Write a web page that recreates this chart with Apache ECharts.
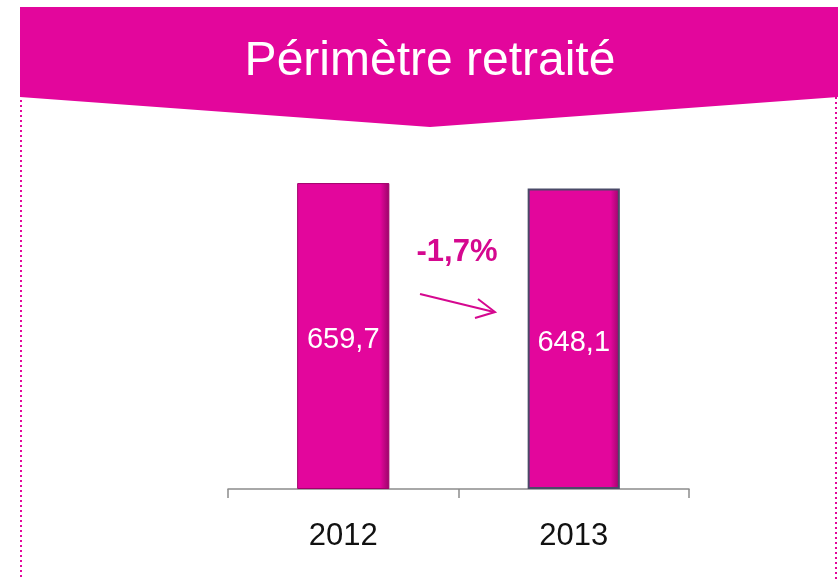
<!DOCTYPE html>
<html>
<head>
<meta charset="utf-8">
<script src="https://cdn.jsdelivr.net/npm/echarts@6/dist/echarts.min.js"></script>
<style>
  html, body { margin: 0; padding: 0; background: #fff; }
  #main { width: 838px; height: 579px; }
</style>
</head>
<body>
<div id="main"></div>
<script>
// données
var years = ['2012', '2013'];
var values = [659.7, 648.1];
var variation = '-1,7%';
var title = 'Périmètre retraité';

var magenta = '#E3069C';

var chart = echarts.init(document.getElementById('main'));

function fmt(v) {
    return v.toFixed(1).replace('.', ',');
}

chart.setOption({
    animation: false,
    grid: { left: 228, right: 149, top: 118, bottom: 90 },
    xAxis: {
        type: 'category',
        data: years,
        axisLine: { lineStyle: { color: '#8c8c8c', width: 1.5 } },
        axisTick: { show: true, length: 9, lineStyle: { color: '#8c8c8c', width: 1.5 } },
        axisLabel: { color: '#111', fontSize: 31, fontFamily: 'Liberation Sans', margin: 32 }
    },
    yAxis: {
        type: 'value',
        min: 0,
        max: 800,
        show: false,
        splitLine: { show: false }
    },
    series: [{
        type: 'bar',
        barWidth: '40%',
        data: values.map(function (v, i) {
            return {
                value: v,
                itemStyle: i === 1
                    ? { borderColor: '#4a4a68', borderWidth: 2 }
                    : { borderColor: '#a0006a', borderWidth: 1 }
            };
        }),
        itemStyle: {
            color: new echarts.graphic.LinearGradient(0, 0, 1, 0, [
                { offset: 0, color: magenta },
                { offset: 0.9, color: magenta },
                { offset: 1, color: '#9a0568' }
            ])
        },
        label: {
            show: true,
            position: 'inside',
            offset: [0, 4],
            color: '#fff',
            fontSize: 29,
            fontFamily: 'Liberation Sans',
            formatter: function (p) { return fmt(p.value); }
        }
    }],
    graphic: [
        // bandeau du titre
        {
            type: 'polygon',
            z: 1,
            shape: { points: [[20, 7], [838, 7], [838, 97], [430, 127], [20, 97]] },
            style: { fill: magenta }
        },
        {
            type: 'text',
            z: 2,
            x: 430, y: 62,
            style: {
                text: title, fill: '#fff', fontSize: 48,
                fontFamily: 'Liberation Sans',
                align: 'center', verticalAlign: 'middle'
            }
        },
        // bordures pointillées
        {
            type: 'line', z: 0,
            shape: { x1: 21, y1: 35, x2: 21, y2: 579 },
            style: { stroke: magenta, lineWidth: 2, lineDash: [2, 3] }
        },
        {
            type: 'line', z: 0,
            shape: { x1: 836, y1: 97, x2: 836, y2: 579 },
            style: { stroke: magenta, lineWidth: 2, lineDash: [2, 3] }
        },
        // variation
        {
            type: 'text',
            x: 457, y: 252,
            style: {
                text: variation, fill: '#D5088F', fontSize: 31, fontWeight: 'bold',
                fontFamily: 'Liberation Sans',
                align: 'center', verticalAlign: 'middle'
            }
        },
        {
            type: 'line',
            shape: { x1: 420, y1: 294, x2: 494, y2: 312 },
            style: { stroke: '#D5088F', lineWidth: 2 }
        },
        {
            type: 'polyline',
            shape: { points: [[478, 299], [495, 312], [475, 318]] },
            style: { stroke: '#D5088F', lineWidth: 2, fill: null }
        }
    ]
});
</script>
</body>
</html>
